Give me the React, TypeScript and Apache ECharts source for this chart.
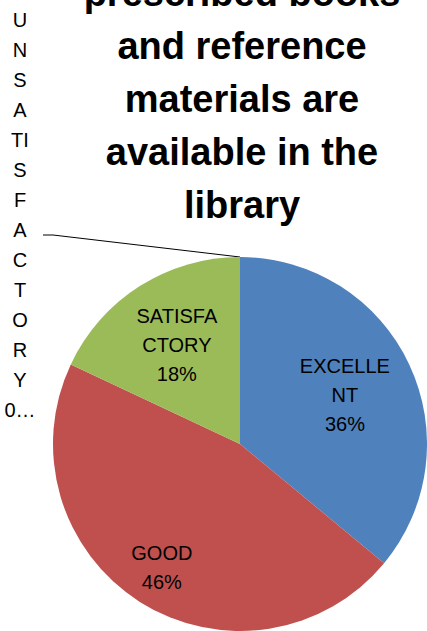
import React, { useEffect, useRef } from "react";
import * as echarts from "echarts";

// ---- data ----
const titleLines = ["prescribed books", "and reference", "materials are", "available in the", "library"];
const categories = ["EXCELLENT", "GOOD", "SATISFACTORY", "UNSATISFACTORY"];
const percents = [36, 46, 18, 0];
// how the category names wrap inside the chart, as in the reference
const nameLines = [
  ["EXCELLE", "NT"],
  ["GOOD"],
  ["SATISFA", "CTORY"],
  ["U", "N", "S", "A", "TI", "S", "F", "A", "C", "T", "O", "R", "Y"],
];
const valueTexts = ["36%", "46%", "18%", "0…"];
const colors = ["#4F81BD", "#C0504D", "#9BBB59", "#8064A2"];

// ---- layout / style ----
const W = 427;
const H = 631;
const CX = 240;
const CY = 444;
const R = 187;
const labelRadius = [0.62, 0.78, 0.63];
const FONT = "Liberation Sans";

export default function App() {
  const ref = useRef<HTMLDivElement>(null);
  useEffect(() => {
    document.body.style.margin = "0";
    if (!ref.current) return;
    const chart = echarts.init(ref.current, null, { renderer: "svg" });
    const data = categories.map((name, i) => ({
      name,
      value: percents[i],
      itemStyle: { color: colors[i] },
      label:
        i === 3
          ? { position: "outside", lineHeight: 30, align: "center" }
          : { position: "inside" },
      labelLine: i === 3 ? { show: true } : { show: false },
    }));
    chart.setOption({
      animation: false,
      backgroundColor: "#ffffff",
      title: {
        text: titleLines.join("\n"),
        left: 242,
        top: -34,
        textAlign: "center",
        padding: 0,
        textStyle: {
          fontFamily: FONT,
          fontWeight: "bold",
          fontSize: 38,
          lineHeight: 53,
          color: "#000",
        },
      },
      series: [
        {
          type: "pie",
          center: [CX, CY],
          radius: [0, R],
          startAngle: 90,
          clockwise: true,
          avoidLabelOverlap: false,
          data,
          label: {
            show: true,
            color: "#000",
            fontFamily: FONT,
            fontSize: 20,
            lineHeight: 29,
            align: "center",
            formatter: (p: any) => [...nameLines[p.dataIndex], valueTexts[p.dataIndex]].join("\n"),
          },
          labelLine: {
            lineStyle: { color: "#000", width: 1 },
            length: 10,
            length2: 10,
          },
          labelLayout: (params: any) => {
            const i = params.dataIndex;
            if (i === 3) {
              return {
                x: 20,
                y: 215,
                align: "center",
                verticalAlign: "middle",
                labelLinePoints: [
                  [43, 235],
                  [53, 235],
                  [CX, CY - R],
                ],
              };
            }
            const r = params.labelRect;
            const lx = r.x + r.width / 2;
            const ly = r.y + r.height / 2;
            const dx = lx - CX;
            const dy = ly - CY;
            const d = Math.hypot(dx, dy) || 1;
            const k = (labelRadius[i] * R) / d;
            return {
              x: CX + dx * k,
              y: CY + dy * k,
              align: "center",
              verticalAlign: "middle",
            };
          },
          emphasis: { disabled: true },
        },
      ],
    });
    return () => chart.dispose();
  }, []);
  return <div ref={ref} style={{ width: W, height: H }} />;
}
